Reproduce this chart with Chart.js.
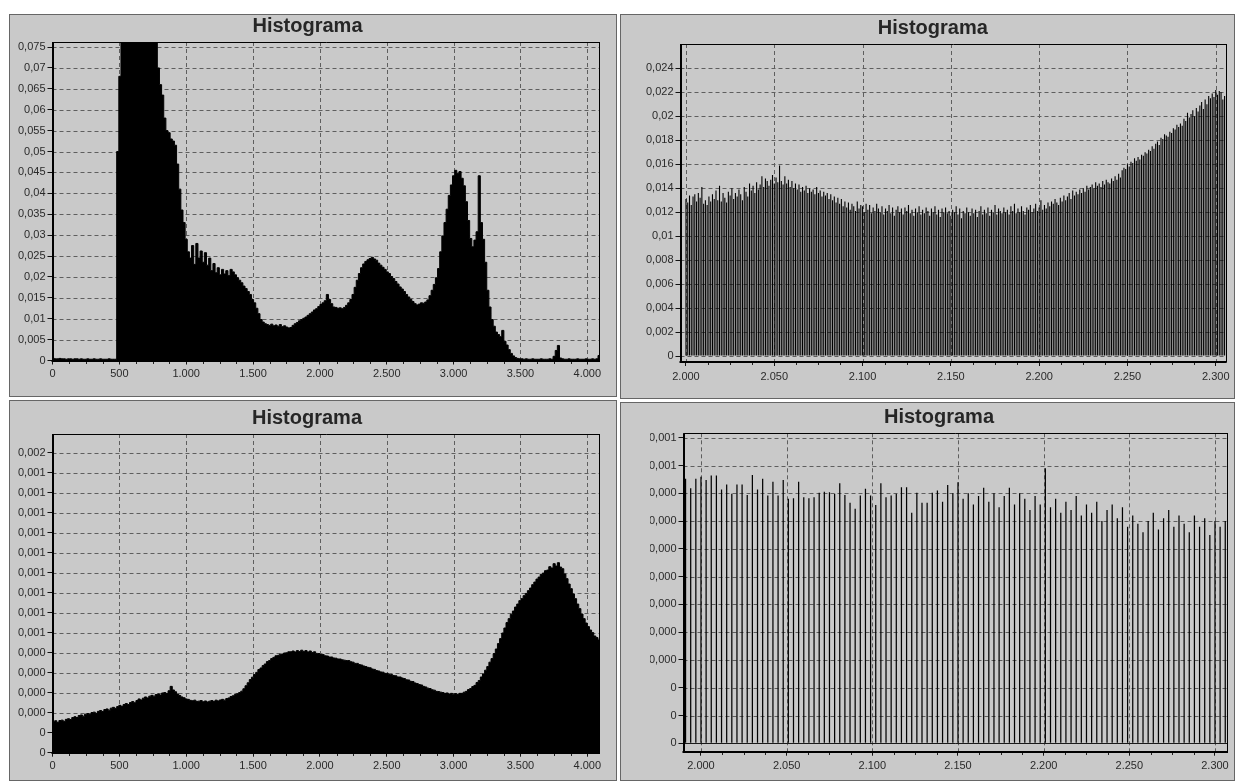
<!DOCTYPE html>
<html>
<head>
<meta charset="utf-8">
<script src="https://cdn.jsdelivr.net/npm/chart.js@4.4.1/dist/chart.umd.min.js"></script>
<style>
  html, body { margin: 0; padding: 0; background: #fff; width: 1235px; height: 781px; overflow: hidden; }
  .panel { position: absolute; box-sizing: border-box; background: #c9c9c9; border: 1px solid #666; }
  canvas { position: absolute; }
</style>
</head>
<body>
<div class="panel" style="left:9px;top:14px;width:608px;height:383px"></div>
<div class="panel" style="left:620px;top:14px;width:615px;height:385px"></div>
<div class="panel" style="left:9px;top:400px;width:608px;height:381px"></div>
<div class="panel" style="left:620px;top:402px;width:615px;height:379px"></div>
<canvas id="tl" width="608" height="383" style="left:9px;top:14px"></canvas>
<canvas id="tr" width="615" height="385" style="left:620px;top:14px"></canvas>
<canvas id="bl" width="608" height="381" style="left:9px;top:400px"></canvas>
<canvas id="br" width="615" height="379" style="left:620px;top:402px"></canvas>
<script>
// ---- axis ticks and labels ----
const fullXTicks = [0, 500, 1000, 1500, 2000, 2500, 3000, 3500, 4000];
const fullXLabels = ['0', '500', '1.000', '1.500', '2.000', '2.500', '3.000', '3.500', '4.000'];
const zoomXTicks = [2000, 2050, 2100, 2150, 2200, 2250, 2300];
const zoomXLabels = ['2.000', '2.050', '2.100', '2.150', '2.200', '2.250', '2.300'];

const tlYTicks = [0, 0.005, 0.01, 0.015, 0.02, 0.025, 0.03, 0.035, 0.04, 0.045, 0.05, 0.055, 0.06, 0.065, 0.07, 0.075];
const tlYLabels = ['0', '0,005', '0,01', '0,015', '0,02', '0,025', '0,03', '0,035', '0,04', '0,045', '0,05', '0,055', '0,06', '0,065', '0,07', '0,075'];
const trYTicks = [0, 0.002, 0.004, 0.006, 0.008, 0.01, 0.012, 0.014, 0.016, 0.018, 0.02, 0.022, 0.024];
const trYLabels = ['0', '0,002', '0,004', '0,006', '0,008', '0,01', '0,012', '0,014', '0,016', '0,018', '0,02', '0,022', '0,024'];
const blYTicks = [0, 0.0001, 0.0002, 0.0003, 0.0004, 0.0005, 0.0006, 0.0007, 0.0008, 0.0009, 0.001, 0.0011, 0.0012, 0.0013, 0.0014, 0.0015];
const blYLabels = ['0', '0', '0,000', '0,000', '0,000', '0,000', '0,001', '0,001', '0,001', '0,001', '0,001', '0,001', '0,001', '0,001', '0,001', '0,002'];
const brYTicks = [0, 0.00005, 0.0001, 0.00015, 0.0002, 0.00025, 0.0003, 0.00035, 0.0004, 0.00045, 0.0005, 0.00055];
const brYLabels = ['0', '0', '0', '0,000', '0,000', '0,000', '0,000', '0,000', '0,000', '0,000', '0,001', '0,001'];

// ---- histogram of the full range, first image (bins of 16 levels) ----
const tlBinWidth = 16;
const tlFreq = [
  0.0005,0.0004,0.0004,0.0005,0.0004,0.0004,0.0003,0.0004,0.0004,0.0003,
  0.0004,0.0004,0.0003,0.0004,0.0003,0.0003,0.0004,0.0003,0.0003,0.0004,
  0.0003,0.0003,0.0004,0.0003,0.0003,0.0003,0.0004,0.0003,0.0003,0.0003,
  0.050,0.068,0.082,0.088,0.093,0.096,0.098,0.099,0.097,0.095,
  0.093,0.092,0.090,0.088,0.086,0.084,0.081,0.079,0.077,0.070,
  0.066,0.0635,0.058,0.055,0.0545,0.053,0.0525,0.0515,0.047,0.041,
  0.036,0.033,0.029,0.026,0.0245,0.0275,0.023,0.028,0.0245,0.0262,
  0.0235,0.0258,0.0228,0.0245,0.0215,0.0232,0.021,0.0222,0.0205,0.0218,
  0.0207,0.0215,0.0203,0.0218,0.0212,0.0205,0.0198,0.0192,0.0186,0.0178,
  0.0172,0.0165,0.0158,0.0146,0.0138,0.0125,0.0112,0.0098,0.0092,0.0088,
  0.0086,0.0084,0.0087,0.0083,0.0085,0.0082,0.0086,0.0081,0.0083,0.0080,
  0.0078,0.0079,0.0084,0.0088,0.0091,0.0095,0.0098,0.0101,0.0104,0.0108,
  0.0112,0.0116,0.0121,0.0124,0.0129,0.0134,0.0138,0.0143,0.0158,0.0146,
  0.0136,0.0128,0.0127,0.0125,0.0126,0.0124,0.0127,0.0132,0.0138,0.0146,
  0.0158,0.0175,0.0192,0.0208,0.0222,0.0231,0.0237,0.0241,0.0244,0.0247,
  0.0243,0.0240,0.0233,0.0228,0.0223,0.0218,0.0212,0.0208,0.0201,0.0196,
  0.0189,0.0183,0.0176,0.0171,0.0165,0.0158,0.0152,0.0146,0.0141,0.0136,
  0.0133,0.0135,0.0138,0.0137,0.0140,0.0145,0.0155,0.0168,0.0182,0.0198,
  0.0220,0.0260,0.0298,0.0330,0.0362,0.0395,0.0420,0.0442,0.0455,0.0448,
  0.0452,0.0436,0.0418,0.0380,0.0335,0.0292,0.0272,0.0288,0.0308,0.0442,
  0.0330,0.0290,0.0235,0.0168,0.0128,0.0098,0.0082,0.0068,0.0062,0.0057,
  0.0072,0.0046,0.0037,0.0026,0.0017,0.0011,0.0007,0.0005,0.0004,0.0004,
  0.0003,0.0004,0.0003,0.0003,0.0004,0.0003,0.0003,0.0003,0.0004,0.0003,
  0.0003,0.0003,0.0004,0.0003,0.0010,0.0024,0.0036,0.0006,0.0004,0.0003,
  0.0003,0.0004,0.0003,0.0003,0.0003,0.0004,0.0003,0.0003,0.0003,0.0004,
  0.0003,0.0003,0.0004,0.0003,0.0004,0.0012,0.0012
];

// ---- histogram of the full range, second image (bins of 16 levels) ----
const blBinWidth = 16;
const blFreq = [
  1.55e-4,1.60e-4,1.52e-4,1.61e-4,1.63e-4,1.57e-4,1.67e-4,1.70e-4,1.66e-4,1.76e-4,
  1.80e-4,1.76e-4,1.86e-4,1.89e-4,1.83e-4,1.93e-4,1.96e-4,1.92e-4,2.01e-4,2.03e-4,
  1.97e-4,2.07e-4,2.11e-4,2.06e-4,2.16e-4,2.19e-4,2.13e-4,2.23e-4,2.27e-4,2.22e-4,
  2.31e-4,2.37e-4,2.32e-4,2.41e-4,2.46e-4,2.41e-4,2.51e-4,2.56e-4,2.50e-4,2.61e-4,
  2.69e-4,2.64e-4,2.73e-4,2.79e-4,2.74e-4,2.83e-4,2.87e-4,2.83e-4,2.91e-4,2.94e-4,
  2.89e-4,2.99e-4,3.01e-4,2.96e-4,3.10e-4,3.32e-4,3.14e-4,3.05e-4,2.94e-4,2.86e-4,
  2.79e-4,2.75e-4,2.69e-4,2.67e-4,2.62e-4,2.60e-4,2.63e-4,2.57e-4,2.58e-4,2.61e-4,
  2.55e-4,2.59e-4,2.54e-4,2.58e-4,2.61e-4,2.57e-4,2.63e-4,2.59e-4,2.64e-4,2.67e-4,
  2.63e-4,2.71e-4,2.74e-4,2.81e-4,2.85e-4,2.91e-4,2.95e-4,3.01e-4,3.08e-4,3.20e-4,
  3.35e-4,3.50e-4,3.66e-4,3.78e-4,3.91e-4,4.02e-4,4.16e-4,4.24e-4,4.36e-4,4.44e-4,
  4.56e-4,4.61e-4,4.71e-4,4.77e-4,4.85e-4,4.87e-4,4.93e-4,4.94e-4,4.99e-4,5.00e-4,
  5.05e-4,5.05e-4,5.09e-4,5.04e-4,5.11e-4,5.06e-4,5.13e-4,5.07e-4,5.11e-4,5.04e-4,
  5.09e-4,5.01e-4,5.05e-4,4.97e-4,4.96e-4,4.91e-4,4.91e-4,4.85e-4,4.84e-4,4.79e-4,
  4.79e-4,4.74e-4,4.73e-4,4.69e-4,4.69e-4,4.65e-4,4.63e-4,4.61e-4,4.61e-4,4.55e-4,
  4.53e-4,4.47e-4,4.47e-4,4.41e-4,4.39e-4,4.34e-4,4.31e-4,4.27e-4,4.25e-4,4.19e-4,
  4.17e-4,4.11e-4,4.09e-4,4.04e-4,4.03e-4,3.97e-4,3.97e-4,3.91e-4,3.91e-4,3.86e-4,
  3.85e-4,3.79e-4,3.79e-4,3.74e-4,3.71e-4,3.65e-4,3.64e-4,3.57e-4,3.56e-4,3.49e-4,
  3.46e-4,3.41e-4,3.39e-4,3.32e-4,3.29e-4,3.23e-4,3.21e-4,3.15e-4,3.13e-4,3.07e-4,
  3.06e-4,3.03e-4,3.01e-4,2.97e-4,2.99e-4,2.94e-4,2.97e-4,2.93e-4,2.96e-4,2.92e-4,
  2.97e-4,2.97e-4,3.03e-4,3.07e-4,3.16e-4,3.21e-4,3.31e-4,3.37e-4,3.51e-4,3.61e-4,
  3.79e-4,3.94e-4,4.13e-4,4.31e-4,4.53e-4,4.71e-4,4.96e-4,5.19e-4,5.46e-4,5.71e-4,
  5.99e-4,6.24e-4,6.51e-4,6.71e-4,6.93e-4,7.09e-4,7.29e-4,7.44e-4,7.61e-4,7.71e-4,
  7.86e-4,7.97e-4,8.11e-4,8.24e-4,8.41e-4,8.54e-4,8.69e-4,8.79e-4,8.93e-4,8.99e-4,
  9.11e-4,9.14e-4,9.31e-4,9.24e-4,9.46e-4,9.34e-4,9.51e-4,9.29e-4,9.21e-4,8.94e-4,
  8.71e-4,8.44e-4,8.21e-4,7.94e-4,7.71e-4,7.44e-4,7.21e-4,6.94e-4,6.71e-4,6.49e-4,
  6.31e-4,6.14e-4,6.01e-4,5.84e-4,5.76e-4,5.64e-4,5.60e-4
];

// ---- detail 2000..2305, first image (one level per bar) ----
const trFirstLevel = 2000;
const trFreq = [
  0.0131,0.0128,0.0134,0.0126,0.0133,0.0135,0.0129,0.0136,0.0132,0.0141,
  0.0127,0.0130,0.0126,0.0133,0.0129,0.0135,0.0131,0.0138,0.0130,0.0142,
  0.0129,0.0136,0.0132,0.0128,0.0137,0.0134,0.0140,0.0131,0.0136,0.0133,
  0.0139,0.0135,0.0130,0.0141,0.0137,0.0133,0.0144,0.0138,0.0142,0.0136,
  0.0145,0.0139,0.0143,0.0150,0.0141,0.0148,0.0146,0.0142,0.0147,0.0151,
  0.0144,0.0149,0.0145,0.0159,0.0146,0.0143,0.0150,0.0144,0.0147,0.0141,
  0.0146,0.0140,0.0144,0.0139,0.0143,0.0137,0.0141,0.0138,0.0142,0.0136,
  0.0140,0.0137,0.0139,0.0135,0.0141,0.0136,0.0138,0.0133,0.0137,0.0134,
  0.0136,0.0131,0.0135,0.0130,0.0133,0.0128,0.0132,0.0127,0.0131,0.0125,
  0.0129,0.0124,0.0128,0.0122,0.0127,0.0125,0.0121,0.0129,0.0123,0.0126,
  0.0125,0.0120,0.0127,0.0122,0.0126,0.0119,0.0124,0.0121,0.0127,0.0123,
  0.0120,0.0125,0.0118,0.0123,0.0121,0.0126,0.0119,0.0124,0.0117,0.0122,
  0.0125,0.0120,0.0123,0.0118,0.0124,0.0121,0.0126,0.0119,0.0122,0.0117,
  0.0123,0.0120,0.0125,0.0118,0.0122,0.0119,0.0124,0.0121,0.0117,0.0123,
  0.0120,0.0125,0.0118,0.0122,0.0116,0.0123,0.0120,0.0124,0.0119,0.0121,
  0.0117,0.0122,0.0120,0.0125,0.0118,0.0123,0.0115,0.0121,0.0119,0.0124,
  0.0120,0.0117,0.0123,0.0119,0.0122,0.0116,0.0121,0.0125,0.0118,0.0122,
  0.0119,0.0124,0.0117,0.0122,0.0120,0.0126,0.0118,0.0123,0.0121,0.0119,
  0.0124,0.0120,0.0122,0.0118,0.0125,0.0121,0.0127,0.0119,0.0123,0.0120,
  0.0125,0.0121,0.0118,0.0124,0.0122,0.0126,0.0120,0.0123,0.0127,0.0121,
  0.0124,0.0130,0.0122,0.0126,0.0123,0.0128,0.0125,0.0129,0.0127,0.0131,
  0.0128,0.0126,0.0132,0.0129,0.0134,0.0130,0.0133,0.0136,0.0131,0.0138,
  0.0134,0.0137,0.0135,0.0139,0.0136,0.0140,0.0137,0.0142,0.0139,0.0141,
  0.0143,0.0140,0.0145,0.0142,0.0144,0.0141,0.0146,0.0143,0.0147,0.0145,
  0.0144,0.0148,0.0146,0.0150,0.0147,0.0152,0.0149,0.0155,0.0157,0.0156,
  0.0160,0.0158,0.0162,0.0161,0.0165,0.0163,0.0166,0.0164,0.0168,0.0167,
  0.0170,0.0169,0.0172,0.0171,0.0175,0.0173,0.0177,0.0179,0.0176,0.0182,
  0.0181,0.0185,0.0184,0.0183,0.0187,0.0186,0.0190,0.0189,0.0193,0.0191,
  0.0194,0.0192,0.0198,0.0196,0.0203,0.0199,0.0202,0.0205,0.0200,0.0207,
  0.0204,0.0209,0.0212,0.0206,0.0214,0.0210,0.0217,0.0215,0.0219,0.0216,
  0.0222,0.0218,0.0221,0.0220,0.0214,0.0217
];

// ---- detail around 2000..2300, second image (only every third level is populated) ----
const brFirstLevel = 1991;
const brLevelStep = 3;
const brFreq = [
  4.76e-4,4.59e-4,4.76e-4,4.80e-4,4.74e-4,4.82e-4,4.82e-4,4.57e-4,4.66e-4,4.49e-4,
  4.66e-4,4.66e-4,4.47e-4,4.83e-4,4.57e-4,4.76e-4,4.46e-4,4.71e-4,4.46e-4,4.74e-4,
  4.40e-4,4.41e-4,4.71e-4,4.43e-4,4.41e-4,4.43e-4,4.51e-4,4.53e-4,4.52e-4,4.49e-4,
  4.68e-4,4.47e-4,4.33e-4,4.22e-4,4.46e-4,4.58e-4,4.46e-4,4.29e-4,4.68e-4,4.43e-4,
  4.46e-4,4.49e-4,4.61e-4,4.61e-4,4.15e-4,4.51e-4,4.33e-4,4.33e-4,4.51e-4,
  4.55e-4,4.35e-4,4.65e-4,4.50e-4,4.70e-4,4.40e-4,4.50e-4,4.30e-4,4.45e-4,4.60e-4,
  4.35e-4,4.50e-4,4.25e-4,4.45e-4,4.60e-4,4.30e-4,4.50e-4,4.40e-4,4.20e-4,4.45e-4,
  4.30e-4,4.95e-4,4.25e-4,4.40e-4,4.15e-4,4.35e-4,4.20e-4,4.45e-4,4.10e-4,4.30e-4,
  4.15e-4,4.35e-4,4.00e-4,4.20e-4,4.30e-4,4.05e-4,4.25e-4,3.90e-4,4.10e-4,3.95e-4,
  3.80e-4,4.00e-4,4.15e-4,3.85e-4,4.05e-4,4.20e-4,3.90e-4,4.10e-4,3.95e-4,3.80e-4,
  4.10e-4,3.90e-4,4.05e-4,3.75e-4,4.00e-4,3.90e-4,4.00e-4
];

// ---- shared look ----
const FONT = '"Liberation Sans", Arial, Helvetica, sans-serif';
const TITLE_SIZE = 20;
Chart.defaults.font.family = FONT;
Chart.defaults.font.size = 11;
Chart.defaults.color = '#2a2a2a';

// dashed grid under the data, plot frame and minor x ticks over it
const plotDecor = {
  id: 'plotDecor',
  beforeDatasetsDraw(chart, args, opts) {
    const { ctx, chartArea: a, scales: { x, y } } = chart;
    ctx.save();
    ctx.strokeStyle = '#5e5e5e';
    ctx.lineWidth = 1;
    ctx.setLineDash([4, 3]);
    ctx.beginPath();
    for (const t of x.ticks) {
      const px = Math.round(x.getPixelForValue(t.value)) + 0.5;
      if (px > a.left + 1.5 && px < a.right - 1) { ctx.moveTo(px, a.top); ctx.lineTo(px, a.bottom); }
    }
    for (const t of y.ticks) {
      const py = Math.round(y.getPixelForValue(t.value)) + 0.5;
      if (py > a.top + 1 && py < a.bottom - 1.5) { ctx.moveTo(a.left, py); ctx.lineTo(a.right, py); }
    }
    ctx.stroke();
    if (opts.baseline) {
      // solid zero line joining the feet of the bars
      const py = Math.round(y.getPixelForValue(0)) + 0.5;
      ctx.setLineDash([]);
      ctx.strokeStyle = '#1a1a1a';
      ctx.beginPath();
      ctx.moveTo(a.left, py);
      ctx.lineTo(a.right, py);
      ctx.stroke();
    }
    ctx.restore();
  },
  afterDatasetsDraw(chart) {
    const { ctx, chartArea: a, scales: { x } } = chart;
    ctx.save();
    ctx.setLineDash([]);
    ctx.strokeStyle = '#000';
    // top and right edges
    ctx.lineWidth = 1;
    ctx.beginPath();
    ctx.moveTo(a.left, Math.round(a.top) + 0.5);
    ctx.lineTo(a.right, Math.round(a.top) + 0.5);
    ctx.moveTo(Math.round(a.right) - 0.5, a.top);
    ctx.lineTo(Math.round(a.right) - 0.5, a.bottom);
    ctx.stroke();
    // axes
    ctx.lineWidth = 2;
    ctx.beginPath();
    ctx.moveTo(Math.round(a.left), a.top);
    ctx.lineTo(Math.round(a.left), a.bottom + 1);
    ctx.moveTo(a.left - 1, Math.round(a.bottom));
    ctx.lineTo(a.right, Math.round(a.bottom));
    ctx.stroke();
    // minor ticks: four subdivisions per labelled interval
    const majors = x.ticks.map(t => t.value);
    const sub = (majors[1] - majors[0]) / 4;
    ctx.lineWidth = 1;
    ctx.strokeStyle = '#222';
    ctx.beginPath();
    for (let k = -4; majors[0] + k * sub <= x.max; k++) {
      const v = majors[0] + k * sub;
      if (v < x.min || k % 4 === 0) continue;
      const px = Math.round(x.getPixelForValue(v)) + 0.5;
      ctx.moveTo(px, Math.round(a.bottom) + 1);
      ctx.lineTo(px, Math.round(a.bottom) + 3);
    }
    ctx.stroke();
    ctx.restore();
  }
};

function histogramChart(id, box, dataset, type) {
  const el = document.getElementById(id);
  const W = el.width, H = el.height;
  const plotL = box.plot.l - box.left, plotR = box.plot.r - box.left;
  const plotT = box.plot.t - box.top, plotB = box.plot.b - box.top;
  const titleTop = (box.titleY - box.top) - TITLE_SIZE / 2;
  const yWidth = plotL - box.padL;
  const xHeight = H - plotB;
  return new Chart(el, {
    type,
    data: { datasets: [dataset] },
    options: {
      responsive: false,
      animation: false,
      devicePixelRatio: 1,
      events: [],
      layout: { padding: { left: box.padL, right: W - plotR, top: 0, bottom: 0 } },
      plugins: {
        legend: { display: false },
        tooltip: { enabled: false },
        title: {
          display: true,
          text: 'Histograma',
          color: '#262626',
          font: { family: FONT, size: TITLE_SIZE, weight: 'bold', lineHeight: 1 },
          padding: { top: titleTop, bottom: plotT - titleTop - TITLE_SIZE }
        },
        plotDecor: { baseline: !!box.baseline }
      },
      scales: {
        x: {
          type: 'linear',
          min: box.xRange[0], max: box.xRange[1],
          offset: false,
          afterBuildTicks: s => { s.ticks = box.xTicks.map(v => ({ value: v })); },
          afterFit: s => { s.height = xHeight; },
          ticks: {
            callback: (v, i) => box.xLabels[i],
            autoSkip: false, maxRotation: 0, padding: box.xPad,
            color: '#2a2a2a', font: { size: 11 }
          },
          grid: { display: true, offset: false, drawOnChartArea: false, drawTicks: true, tickLength: 4, tickColor: '#111', tickWidth: 1 },
          border: { display: false }
        },
        y: {
          type: 'linear',
          min: box.yRange[0], max: box.yRange[1],
          afterBuildTicks: s => { s.ticks = box.yTicks.map(v => ({ value: v })); },
          afterFit: s => { s.width = yWidth; },
          ticks: {
            callback: (v, i) => box.yLabels[i],
            autoSkip: false, padding: 2,
            color: '#2a2a2a', font: { size: 11 }
          },
          grid: { display: true, drawOnChartArea: false, drawTicks: true, tickLength: 5, tickColor: '#111', tickWidth: 1 },
          border: { display: false }
        }
      }
    },
    plugins: [plotDecor]
  });
}

// ---- top left: full range, first image ----
histogramChart('tl', {
  left: 9, top: 14, padL: 6, titleY: 26.7,
  plot: { l: 52.5, r: 600, t: 42, b: 360.5 },
  xRange: [0, 4095], yRange: [0, 0.0762],
  xTicks: fullXTicks, xLabels: fullXLabels, yTicks: tlYTicks, yLabels: tlYLabels, xPad: 3
}, {
  data: tlFreq.map((y, i) => ({ x: i * tlBinWidth, y })),
  stepped: 'before', fill: 'origin',
  backgroundColor: '#000', borderColor: '#000', borderWidth: 1,
  pointRadius: 0, clip: 0
}, 'line');

// ---- top right: detail, first image ----
histogramChart('tr', {
  left: 620, top: 14, padL: 19, titleY: 28.5,
  plot: { l: 680.5, r: 1226.7, t: 44, b: 362 },
  xRange: [1996.9, 2306.2], yRange: [-0.0005, 0.02603],
  xTicks: zoomXTicks, xLabels: zoomXLabels, yTicks: trYTicks, yLabels: trYLabels, xPad: 4
}, {
  data: trFreq.map((y, i) => ({ x: trFirstLevel + i, y })),
  backgroundColor: '#000', borderWidth: 0,
  barPercentage: 1, categoryPercentage: 0.62, inflateAmount: 0
}, 'bar');

// ---- bottom left: full range, second image ----
histogramChart('bl', {
  left: 9, top: 400, padL: 5, titleY: 418.5,
  plot: { l: 52.5, r: 600, t: 434, b: 752.7 },
  xRange: [0, 4095], yRange: [0, 0.001595],
  xTicks: fullXTicks, xLabels: fullXLabels, yTicks: blYTicks, yLabels: blYLabels, xPad: 3
}, {
  data: blFreq.map((y, i) => ({ x: i * blBinWidth, y })),
  stepped: 'before', fill: 'origin',
  backgroundColor: '#000', borderColor: '#000', borderWidth: 1,
  pointRadius: 0, clip: 0
}, 'line');

// ---- bottom right: detail, second image ----
histogramChart('br', {
  left: 620, top: 402, padL: 30, titleY: 417.5, baseline: true,
  plot: { l: 683.5, r: 1228, t: 433.3, b: 751.7 },
  xRange: [1989.8, 2307.6], yRange: [-0.0000151, 0.000558],
  xTicks: zoomXTicks, xLabels: zoomXLabels, yTicks: brYTicks, yLabels: brYLabels, xPad: 3.5
}, {
  data: brFreq.map((y, k) => ({ x: brFirstLevel + k * brLevelStep, y })),
  backgroundColor: '#000', borderWidth: 0,
  barPercentage: 1, categoryPercentage: 0.24, inflateAmount: 0
}, 'bar');
</script>
</body>
</html>
